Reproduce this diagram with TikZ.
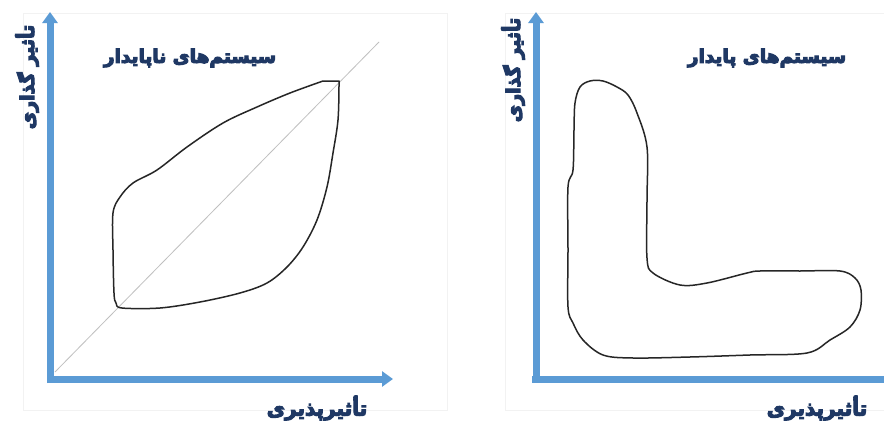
\documentclass[tikz,border=0pt]{standalone}
\usepackage{fontspec}
\usetikzlibrary{arrows.meta}
\TeXXeTstate=1
\newfontfamily\fa[Script=Arabic]{DejaVu Sans}
\newcommand\heavytext[1]{\special{pdf:literal direct 2 Tr 1.1 w}#1\special{pdf:literal direct 0 Tr}}
\definecolor{axisblue}{HTML}{5B9BD5}
\definecolor{navy}{HTML}{1F3864}
\definecolor{diag}{HTML}{BFBFBF}
\tikzset{
  axis/.style={draw=axisblue, line width=7pt},
  axisarrow/.style={axis, -{Triangle[length=11pt,width=15pt]}},
  region/.style={draw=black!85, line width=1.5pt, line join=round},
  title/.style={text=navy, font=\fa\bfseries\fontsize{18.5}{22}\selectfont, inner sep=0pt},
  alabel/.style={text=navy, font=\fa\bfseries\fontsize{20}{22}\selectfont, inner sep=0pt},
  vlabel/.style={text=navy, font=\fa\bfseries\fontsize{19}{22}\selectfont, inner sep=0pt, rotate=90},
  frame/.style={draw=black!5, line width=0.6pt}
}
\begin{document}
\begin{tikzpicture}[x=1pt,y=-1pt]
\useasboundingbox (0,0) rectangle (884,423);
\fill[white] (0,0) rectangle (884,423);
% faint panel frames
\draw[frame] (23,13) rectangle (447,410);
\draw[frame] (505,13) rectangle (884,410);
% left panel
\coordinate (dA) at (55,372);
\coordinate (dB) at (379,42);
\draw[diag, line width=0.8pt] (dA) -- (dB);
\draw[region] plot[smooth, tension=0.55] coordinates {
 (339,86) (338,120) (333,153) (327,187) (317,220) (303,247) (287,267)
 (267,283) (240,293) (200,302) (160,308) (122,308) (116,303) (114,293)
 (113,250) (113,213) (120,197) (133,183) (157,170) (187,147) (223,123)
 (257,107) (290,93) (323,81)} -- (339,81) -- cycle;
\coordinate (lo) at (50,383);
\coordinate (ly) at (50,12);
\coordinate (lx0) at (47,379);
\coordinate (lx) at (393,379);
\draw[axisarrow] (lo) -- (ly);
\draw[axisarrow] (lx0) -- (lx);
\node[title] (t1) at (190,58) {\heavytext{\beginR سیستم‌های ناپایدار\endR}};
\node[alabel] (xl1) at (317,408) {\heavytext{\beginR تأثیرپذیری\endR}};
\node[vlabel] (yl1) at (27,77) {\heavytext{\beginR تأثیر گذاری\endR}};
% right panel
\draw[region] plot[smooth cycle, tension=0.55] coordinates {
 (590,81) (603,81) (617,87) (628,95) (637,113) (647,147) (647,200)
 (647,258) (653,273) (680,285) (707,283) (747,273) (760,271) (800,271)
 (840,271) (855,278) (861,290) (860,310) (850,327) (830,340) (807,353)
 (750,355) (690,357) (633,358) (603,355) (583,340) (573,323) (568,307)
 (568,250) (568,187) (573,170) (574,130) (575,103) (580,87)};
\coordinate (ro) at (536,383);
\coordinate (ry) at (536,12);
\coordinate (rx0) at (532,379);
\coordinate (rx) at (890,379);
\draw[axisarrow] (ro) -- (ry);
\draw[axis] (rx0) -- (rx);
\node[title] (t2) at (767,58) {\heavytext{\beginR سیستم‌های پایدار\endR}};
\node[alabel] (xl2) at (817,408) {\heavytext{\beginR تأثیرپذیری\endR}};
\node[vlabel] (yl2) at (513,70) {\heavytext{\beginR تأثیر گذاری\endR}};
\end{tikzpicture}
\end{document}
